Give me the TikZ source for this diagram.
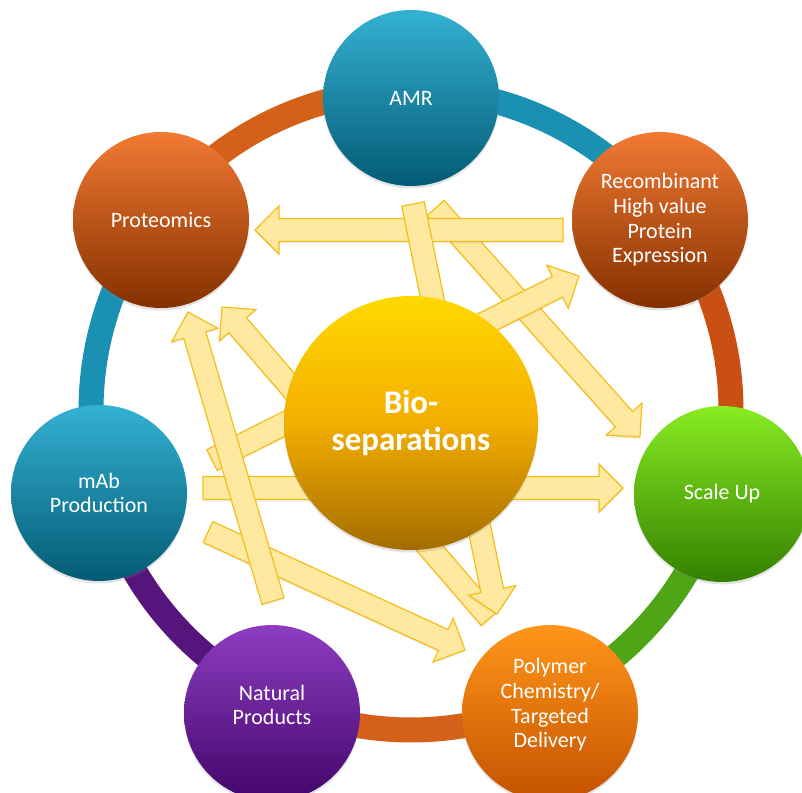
\documentclass[tikz,border=0pt]{standalone}
\usepackage{fontspec}
\setmainfont{Carlito}
\usetikzlibrary{calc,shadows}
\definecolor{tealtop}{HTML}{34B1D2}
\definecolor{tealbot}{HTML}{035B75}
\definecolor{rusttop}{HTML}{F27A33}
\definecolor{rustbot}{HTML}{843000}
\definecolor{limetop}{HTML}{88EC22}
\definecolor{limebot}{HTML}{348000}
\definecolor{ambertop}{HTML}{FF9619}
\definecolor{amberbot}{HTML}{C45200}
\definecolor{plumtop}{HTML}{8E3DC1}
\definecolor{plumbot}{HTML}{42056A}
\definecolor{goldtop}{HTML}{FFD900}
\definecolor{goldmid}{HTML}{F3AE00}
\definecolor{goldbot}{HTML}{A46C00}
\definecolor{arrowfill}{HTML}{FFE9A0}
\definecolor{arrowedge}{HTML}{F5BE16}
\definecolor{segteal}{HTML}{1A91B2}
\definecolor{segrust}{HTML}{C94F12}
\definecolor{seglime}{HTML}{4EA516}
\definecolor{segamber}{HTML}{D4601A}
\definecolor{segplum}{HTML}{55157D}
\tikzset{
  disc/.style 2 args={circle, minimum size=176pt, inner sep=0pt, top color=#1, bottom color=#2, drop shadow={opacity=0.22, shadow xshift=0pt, shadow yshift=-2.5pt}},
  hubdisc/.style={disc={goldtop}{goldbot}, middle color=goldmid, minimum size=254pt},
  seg/.style={line width=25pt},
  lbl/.style={font=\fontsize{22}{24.7}\selectfont, text=white, align=center, inner sep=0pt},
  hublbl/.style={font=\fontsize{33}{37}\selectfont\bfseries, text=white, align=center, inner sep=0pt},
  blk/.style={draw=arrowedge, fill=arrowfill, line width=1.2pt, line join=miter, drop shadow={opacity=0.12, shadow xshift=0pt, shadow yshift=-2pt}},
}
% block arrow from #1 to #2
\newcommand{\bigarrow}[2]{%
  \coordinate (hb) at ($(#2)!24pt!(#1)$);
  \draw[blk] ($(#1)!11.5pt!90:(#2)$) -- ($(hb)!11.5pt!90:(#2)$) -- ($(hb)!24pt!90:(#2)$)
    -- (#2) -- ($(hb)!24pt!-90:(#2)$) -- ($(hb)!11.5pt!-90:(#2)$) -- ($(#1)!11.5pt!-90:(#2)$) -- cycle;}

\begin{document}
\begin{tikzpicture}[x=1pt,y=1pt]
  \useasboundingbox (0,0) rectangle (802,-792);
  \coordinate (ringc) at (411,-410);

  % ring
  \foreach \a/\b/\c in {90/37.3/segteal, 37.3/-15.1/segrust, -15.1/-65.4/seglime,
      -65.4/-114.6/segamber, -114.6/-165.1/segplum, 194.9/142.8/segteal, 142.8/90/segamber}
    \draw[seg, \c] ($(ringc)+(\a:320)$) arc[start angle=\a, end angle=\b, radius=320];

  % outer circles
  \node[disc={tealtop}{tealbot}] (amr) at (411,-98) {};
  \node[disc={rusttop}{rustbot}] (rec) at (660,-220) {};
  \node[disc={limetop}{limebot}] (scl) at (722,-494) {};
  \node[disc={ambertop}{amberbot}] (pol) at (550,-713) {};
  \node[disc={plumtop}{plumbot}] (nat) at (272,-713) {};
  \node[disc={tealtop}{tealbot}] (mab) at (99,-493) {};
  \node[disc={rusttop}{rustbot}] (pro) at (161,-220) {};

  % arrow ends
  \coordinate (amr-a) at (435.5,-208);
  \coordinate (scl-a) at (640,-437);
  \coordinate (rec-a) at (563,-230);
  \coordinate (pro-a) at (255,-230);
  \coordinate (pol-a) at (490,-618);
  \coordinate (pro-b) at (222,-307);
  \coordinate (amr-b) at (413,-204);
  \coordinate (pol-b) at (497,-614);
  \coordinate (mab-a) at (212,-460);
  \coordinate (rec-b) at (579,-276);
  \coordinate (mab-b) at (203,-488);
  \coordinate (scl-b) at (623,-488);
  \coordinate (mab-c) at (208,-532);
  \coordinate (pol-c) at (465,-650);
  \coordinate (nat-a) at (273,-601);
  \coordinate (pro-c) at (188,-312);

  \bigarrow{amr-a}{scl-a}
  \bigarrow{rec-a}{pro-a}
  \bigarrow{pol-a}{pro-b}
  \bigarrow{amr-b}{pol-b}
  \bigarrow{mab-a}{rec-b}
  \bigarrow{mab-b}{scl-b}
  \bigarrow{mab-c}{pol-c}
  \bigarrow{nat-a}{pro-c}

  % hub
  \node[hubdisc] (hub) at (411,-423) {};
  \node[hublbl] (hub-t) at (hub) {Bio-\\separations};

  % labels
  \node[lbl] (amr-t) at (amr) {AMR};
  \node[lbl] (rec-t) at (rec) {Recombinant\\High value\\Protein\\Expression};
  \node[lbl] (scl-t) at (scl) {Scale Up};
  \node[lbl] (pol-t) at ($(pol)+(0,8)$) {Polymer\\Chemistry/\\Targeted\\Delivery};
  \node[lbl] (nat-t) at ($(nat)+(0,8)$) {Natural\\Products};
  \node[lbl] (mab-t) at (mab) {mAb\\Production};
  \node[lbl] (pro-t) at (pro) {Proteomics};
\end{tikzpicture}
\end{document}
